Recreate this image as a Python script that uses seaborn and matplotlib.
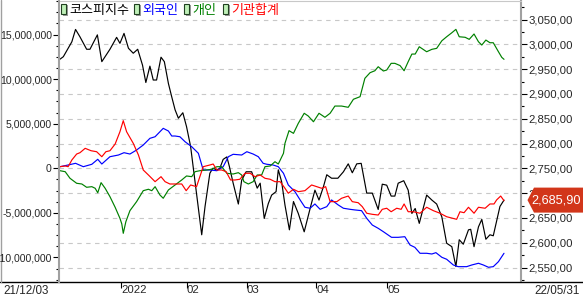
import matplotlib
matplotlib.use("Agg")
import matplotlib.pyplot as plt
import matplotlib.ticker as mticker
from matplotlib.lines import Line2D
from matplotlib.patches import Rectangle, Polygon
from matplotlib.transforms import IdentityTransform
import seaborn as sns
import pandas as pd

# ---------------- data (trading-day index 0 = 21/12/03 ... 120 = 22/05/31) -------------
kospi_day = [0, 0.9, 3.2, 4.2, 5.4, 7.2, 8.1, 10.1, 11.3, 13.5,
             15.3, 16.2, 17.3, 18.5, 19.8, 21.0, 22.3, 23.2, 24.3, 25.2,
             26.1, 27.3, 28.2, 29.3, 30.2, 31.1, 32.0, 33.2, 34.2, 35.3,
             38.3, 39.2, 40.5, 41.3, 42.4, 43.2, 44.1, 45.1, 45.8, 46.8,
             48.2, 49.1, 50.3, 51.8, 52.7, 53.3, 54.1, 55.2, 56.3, 57.2,
             58.4, 59.0, 59.9, 60.8, 62.0, 63.1, 64.4, 66.0, 67.6, 68.9,
             70.0, 71.2, 72.1, 73.4, 75.1, 76.6, 77.9, 79.0, 80.2, 81.4,
             82.9, 84.4, 86.0, 87.1, 88.3, 89.5, 90.5, 91.4, 92.9, 94.1,
             95.1, 96.0, 97.1, 99.1, 100.5, 101.8, 103.2, 104.5, 105.9, 107.0,
             107.9, 109.0, 110.4, 111.0, 111.9, 113.1, 114.0, 115.1, 116.2, 117.1,
             118.9, 120]
kospi = [2970, 2975, 3005, 3030, 3015, 2990, 2990, 3019, 2965, 2990,
         3014, 3002, 3022, 2992, 2982, 2990, 2958, 2923, 2956, 2928,
         2928, 2974, 2965, 2921, 2894, 2868, 2851, 2862, 2834, 2794,
         2616, 2673, 2740, 2750, 2747, 2750, 2768, 2773, 2753, 2720,
         2678, 2726, 2743, 2743, 2723, 2710, 2720, 2649, 2679, 2696,
         2703, 2747, 2723, 2676, 2626, 2683, 2659, 2622, 2669, 2706,
         2686, 2713, 2737, 2730, 2730, 2743, 2759, 2741, 2759, 2760,
         2700, 2700, 2667, 2718, 2716, 2694, 2694, 2720, 2725, 2706,
         2659, 2669, 2639, 2696, 2686, 2678, 2652, 2599, 2592, 2552,
         2606, 2597, 2626, 2627, 2592, 2632, 2647, 2607, 2616, 2614,
         2673, 2685.9]

# net buying, in millions of the left-axis unit
foreign_day = [0, 2.2, 4.2, 6.3, 8.6, 10.2, 11.3, 13.5, 15.8, 17.3,
               18.9, 20.7, 22.5, 24.3, 25.7, 27.9, 29.3, 30.2, 31.1, 32.4,
               33.8, 35.6, 37.4, 38.7, 40.5, 42.4, 44.1, 45.5, 46.8, 49.1,
               50.5, 52.2, 53.6, 54.9, 55.9, 57.6, 59.0, 60.4, 61.7, 63.5,
               64.9, 66.2, 67.6, 68.9, 70.3, 72.1, 73.4, 75.2, 76.6, 78.4,
               79.7, 81.5, 82.9, 84.4, 86.0, 87.4, 89.6, 91.4, 93.2, 94.6,
               95.9, 97.3, 99.1, 100.5, 101.6, 103.2, 104.5, 106.3, 107.6, 109.9,
               111.3, 113.1, 114.4, 115.8, 117.1, 118.5, 120]
foreign = [0.18, 0.37, 0.56, 0.18, 0.45, 1.01, 0.48, 1.30, 1.49, 1.75,
           1.60, 2.05, 2.61, 3.36, 3.54, 4.48, 4.18, 3.62, 3.62, 3.54,
           2.98, 2.42, 1.68, -0.19, -0.19, -0.27, 0.18, 1.30, 1.57, 1.49,
           1.86, 1.60, 1.30, 0.56, 0.45, 0.37, 0.18, -0.56, -1.87, -2.62,
           -3.55, -4.37, -4.48, -4.00, -4.60, -4.30, -3.55, -4.11, -4.48, -4.60,
           -4.67, -4.75, -5.61, -6.36, -6.73, -7.11, -7.74, -7.74, -7.67, -8.60,
           -8.86, -9.53, -9.53, -9.61, -9.46, -9.98, -10.20, -10.84, -11.03, -11.03,
           -10.84, -10.65, -10.84, -11.10, -11.03, -10.47, -9.53]

indiv_day = [0, 1.4, 2.7, 4.5, 5.9, 7.2, 8.6, 9.5, 10.2, 11.1,
             12.2, 13.5, 14.9, 16.2, 16.7, 17.1, 17.8, 18.9, 20.7, 22.5,
             23.9, 24.8, 25.7, 27.0, 27.9, 29.3, 31.1, 32.9, 34.2, 35.6,
             36.5, 37.8, 39.6, 41.0, 42.4, 43.7, 45.1, 46.8, 48.2, 49.1,
             49.7, 50.9, 52.2, 53.3, 54.5, 55.4, 56.8, 58.1, 59.0, 60.4,
             60.8, 61.9, 63.1, 64.4, 66.0, 67.1, 68.5, 70.0, 71.6, 73.0,
             74.3, 76.1, 77.9, 79.3, 81.1, 82.4, 83.8, 85.1, 86.0, 87.4,
             88.3, 89.5, 90.5, 91.9, 93.0, 94.1, 95.1, 96.0, 97.1, 99.1,
             100.5, 101.8, 103.2, 104.5, 105.9, 107.0, 107.9, 109.5, 110.6, 111.9,
             113.1, 114.0, 115.1, 116.2, 117.1, 118.5, 119.4, 120]
indiv = [-0.27, -0.38, -1.12, -1.68, -1.76, -2.13, -2.06, -2.24, -2.74, -1.61,
         -2.24, -3.18, -4.37, -5.61, -6.24, -7.29, -5.99, -4.75, -3.74, -2.51,
         -2.35, -2.51, -2.06, -2.99, -3.36, -2.43, -1.87, -1.31, -0.86, -0.94,
         -0.38, -0.27, -0.19, -0.11, 0.18, 0.18, -0.56, -0.64, -0.49, -0.75,
         -1.50, -1.76, -1.50, -0.75, -0.75, 0.18, 0.26, 0.74, 0.48, 1.68,
         2.80, 4.22, 3.92, 5.04, 6.17, 5.86, 5.22, 6.17, 5.72, 6.17,
         6.98, 6.98, 6.84, 7.74, 8.03, 10.09, 10.72, 10.94, 11.39, 10.91,
         11.02, 11.77, 11.77, 11.52, 10.94, 11.95, 12.81, 12.81, 13.63, 13.07,
         13.34, 13.45, 14.30, 14.75, 15.20, 15.58, 14.75, 14.69, 14.46, 15.06,
         14.19, 13.82, 14.38, 14.08, 14.08, 13.07, 12.44, 12.22]

inst_day = [0, 1.4, 2.2, 3.2, 4.5, 5.4, 6.8, 8.4, 9.9, 11.3,
            12.4, 13.5, 14.9, 16.2, 17.1, 18.0, 19.8, 21.2, 22.5, 23.9,
            25.7, 27.3, 28.4, 29.7, 31.5, 32.9, 34.1, 35.3, 36.9, 38.7,
            40.5, 41.4, 42.4, 43.7, 44.9, 46.1, 47.3, 48.6, 50.0, 51.4,
            52.7, 54.1, 55.4, 56.8, 58.1, 59.5, 60.8, 61.7, 63.1, 64.4,
            66.2, 68.0, 69.4, 70.7, 71.8, 73.0, 74.8, 76.1, 77.9, 79.0,
            80.6, 81.7, 82.9, 84.4, 86.0, 87.1, 88.3, 89.5, 91.0, 92.2,
            93.0, 94.1, 95.5, 97.3, 99.1, 100.9, 102.7, 104.5, 107.2, 108.1,
            109.2, 110.4, 111.9, 113.1, 114.9, 116.2, 117.3, 118.0, 119.1, 120]
inst = [0.18, 0.26, 0.18, 0.93, 1.60, 1.75, 2.24, 1.97, 1.86, 1.30,
        1.86, 1.97, 2.72, 4.10, 5.34, 4.10, 2.80, 1.49, -0.19, -0.75,
        -1.50, -0.94, -1.50, -1.76, -1.76, -1.76, -2.51, -1.87, -2.06, 0.18,
        0.37, 0.48, -0.19, -0.19, -0.38, -1.31, -1.31, -1.23, -0.56, -0.56,
        -0.94, -0.75, -1.12, -1.23, -1.50, -1.50, -2.24, -2.80, -2.35, -2.62,
        -2.51, -1.87, -2.06, -2.24, -2.06, -3.74, -3.74, -3.36, -3.11, -3.74,
        -3.86, -4.30, -5.04, -5.16, -5.24, -4.60, -4.48, -4.87, -4.48, -4.60,
        -4.00, -4.87, -4.87, -5.04, -4.37, -4.75, -5.04, -5.43, -5.72, -4.87,
        -4.98, -4.37, -5.04, -4.37, -4.48, -4.00, -4.00, -3.55, -3.11, -3.63]

series_names = ["코스피지수", "외국인", "개인", "기관합계"]
series_colors = ["#000000", "#0000ff", "#008000", "#ff0000"]

month_ticks = [16.5, 34.3, 50.5, 69.2, 88.4]
month_labels = ["2022", "02", "03", "04", "05"]
start_label = "21/12/03"
end_label = "22/05/31"

# ---------------- style ----------------
sns.set_style("white")
plt.rcParams["font.family"] = ["Liberation Sans", "DejaVu Sans"]
plt.rcParams["axes.unicode_minus"] = False

W, H = 583, 299
fig = plt.figure(figsize=(W / 100, H / 100), dpi=100)
fig.patch.set_facecolor("white")


def fx(px):
    return px / W


def fy(py):
    return 1 - py / H


ax_l, ax_r, ax_t, ax_b = 58.5, 521, 1, 282
ax = fig.add_axes([fx(ax_l), fy(ax_b), fx(ax_r) - fx(ax_l), fy(ax_t) - fy(ax_b)])
ax2 = ax.twinx()
ax.set_zorder(2)
ax.patch.set_visible(False)

df_k = pd.DataFrame({"day": kospi_day, "value": kospi})
df_f = pd.DataFrame({"day": foreign_day, "value": [v * 1e6 for v in foreign]})
df_i = pd.DataFrame({"day": indiv_day, "value": [v * 1e6 for v in indiv]})
df_n = pd.DataFrame({"day": inst_day, "value": [v * 1e6 for v in inst]})

lw = 0.85
sns.lineplot(data=df_k, x="day", y="value", ax=ax2, color=series_colors[0],
             lw=lw, estimator=None, legend=False)
sns.lineplot(data=df_f, x="day", y="value", ax=ax, color=series_colors[1],
             lw=lw, estimator=None, legend=False)
sns.lineplot(data=df_i, x="day", y="value", ax=ax, color=series_colors[2],
             lw=lw, estimator=None, legend=False)
sns.lineplot(data=df_n, x="day", y="value", ax=ax, color=series_colors[3],
             lw=lw, estimator=None, legend=False)

# limits
px_per_day = (504 - 60) / 120.0
ax.set_xlim((ax_l - 60) / px_per_day, (ax_r - 60) / px_per_day)
ax.set_ylim(-12.75e6, 18.76e6)
ax2.set_ylim(2520.8, 3087.3)

# left axis ticks
ax.yaxis.set_major_locator(mticker.MultipleLocator(5e6))
ax.yaxis.set_minor_locator(mticker.MultipleLocator(1.25e6))
ax.yaxis.set_major_formatter(mticker.FuncFormatter(lambda v, p: f"{v:,.0f}"))
ax.tick_params(axis="y", which="major", length=4, width=0.8, color="black",
               labelsize=7.6, pad=0.8, left=True)
ax.tick_params(axis="y", which="minor", length=2.5, width=0.8, color="black", left=True)

# right axis ticks
ax2.yaxis.set_major_locator(mticker.MultipleLocator(50))
ax2.yaxis.set_minor_locator(mticker.MultipleLocator(25))
ax2.yaxis.set_major_formatter(
    mticker.FuncFormatter(lambda v, p: f"{v:,.2f}".replace(".", ",")))
ax2.tick_params(axis="y", which="major", length=4, width=0.8, color="black",
                labelsize=8.2, pad=1.5, right=True)
ax2.tick_params(axis="y", which="minor", length=2.5, width=0.8, color="black", right=True)
ax2.set_ylabel("")
ax.set_ylabel("")
ax.set_xlabel("")
ax2.set_xlabel("")

# grid at right-axis majors (drawn behind, on ax2)
ax2.yaxis.grid(True, which="major", color="#c8c8c8", lw=0.8, ls=(0, (4, 4)))
ax2.xaxis.grid(False)
ax.grid(False)

# x ticks
ax.set_xticks(month_ticks)
ax.set_xticklabels(month_labels, ha="left")
ax.tick_params(axis="x", which="major", length=4, width=0.8, color="black",
               labelsize=8.2, pad=-2.0, bottom=True)

# spines
for s in ["top", "right"]:
    ax.spines[s].set_visible(False)
ax.spines["left"].set_color("#a0a0a0")
ax.spines["left"].set_linewidth(1.5)
ax.spines["bottom"].set_visible(False)
for s in ["left", "bottom"]:
    ax2.spines[s].set_visible(False)
ax2.spines["right"].set_color("#a0a0a0")
ax2.spines["right"].set_linewidth(1.5)
ax2.spines["top"].set_color("#c8c8c8")
ax2.spines["top"].set_linewidth(0.8)

# full-width bottom rule and left border
fig.add_artist(Line2D([0, 1], [fy(282), fy(282)], transform=fig.transFigure,
                      color="black", lw=1.0))
fig.add_artist(Line2D([fx(0.5), fx(0.5)], [fy(0), fy(282)], transform=fig.transFigure,
                      color="#a0a0a0", lw=1.0))

# end date labels
fig.text(fx(3), fy(291.5), start_label, ha="left", va="center", fontsize=8.4)
fig.text(fx(580), fy(291.5), end_label, ha="right", va="center", fontsize=8.4)

# legend (manual, like the HTS chart)
legend_icon_px = [61, 134, 184, 223]
for name, col, ix in zip(series_names, series_colors, legend_icon_px):
    fig.add_artist(Rectangle((fx(ix + 1.5), fy(15.5)), fx(5), fy(0) - fy(11),
                             transform=fig.transFigure, fc="#9a9a9a", ec="none"))
    fig.add_artist(Rectangle((fx(ix), fy(14)), fx(4.5), fy(0) - fy(10),
                             transform=fig.transFigure, fc="#bff0b8", ec="#204020", lw=0.8))
    fig.text(fx(ix + 8), fy(10.5), name, ha="left", va="center", fontsize=9.4,
             color=col, family=["Noto Sans CJK KR", "DejaVu Sans"])

# last-value tag on the right axis
fig.canvas.draw()
last_val = kospi[-1]
y_disp = ax2.transData.transform((0, last_val))[1]
tag = Polygon([(527.5, y_disp), (534, y_disp + 12.5), (583, y_disp + 12.5),
               (583, y_disp - 12.5), (534, y_disp - 12.5)],
              closed=True, transform=IdentityTransform(), fc="#d2361a", ec="none",
              zorder=20)
fig.add_artist(tag)
fig.text(556.5 / W, y_disp / H, f"{last_val:,.2f}".replace(".", ","),
         ha="center", va="center", color="white", fontsize=9.2, zorder=21)

fig.savefig("out.png", dpi=100)
